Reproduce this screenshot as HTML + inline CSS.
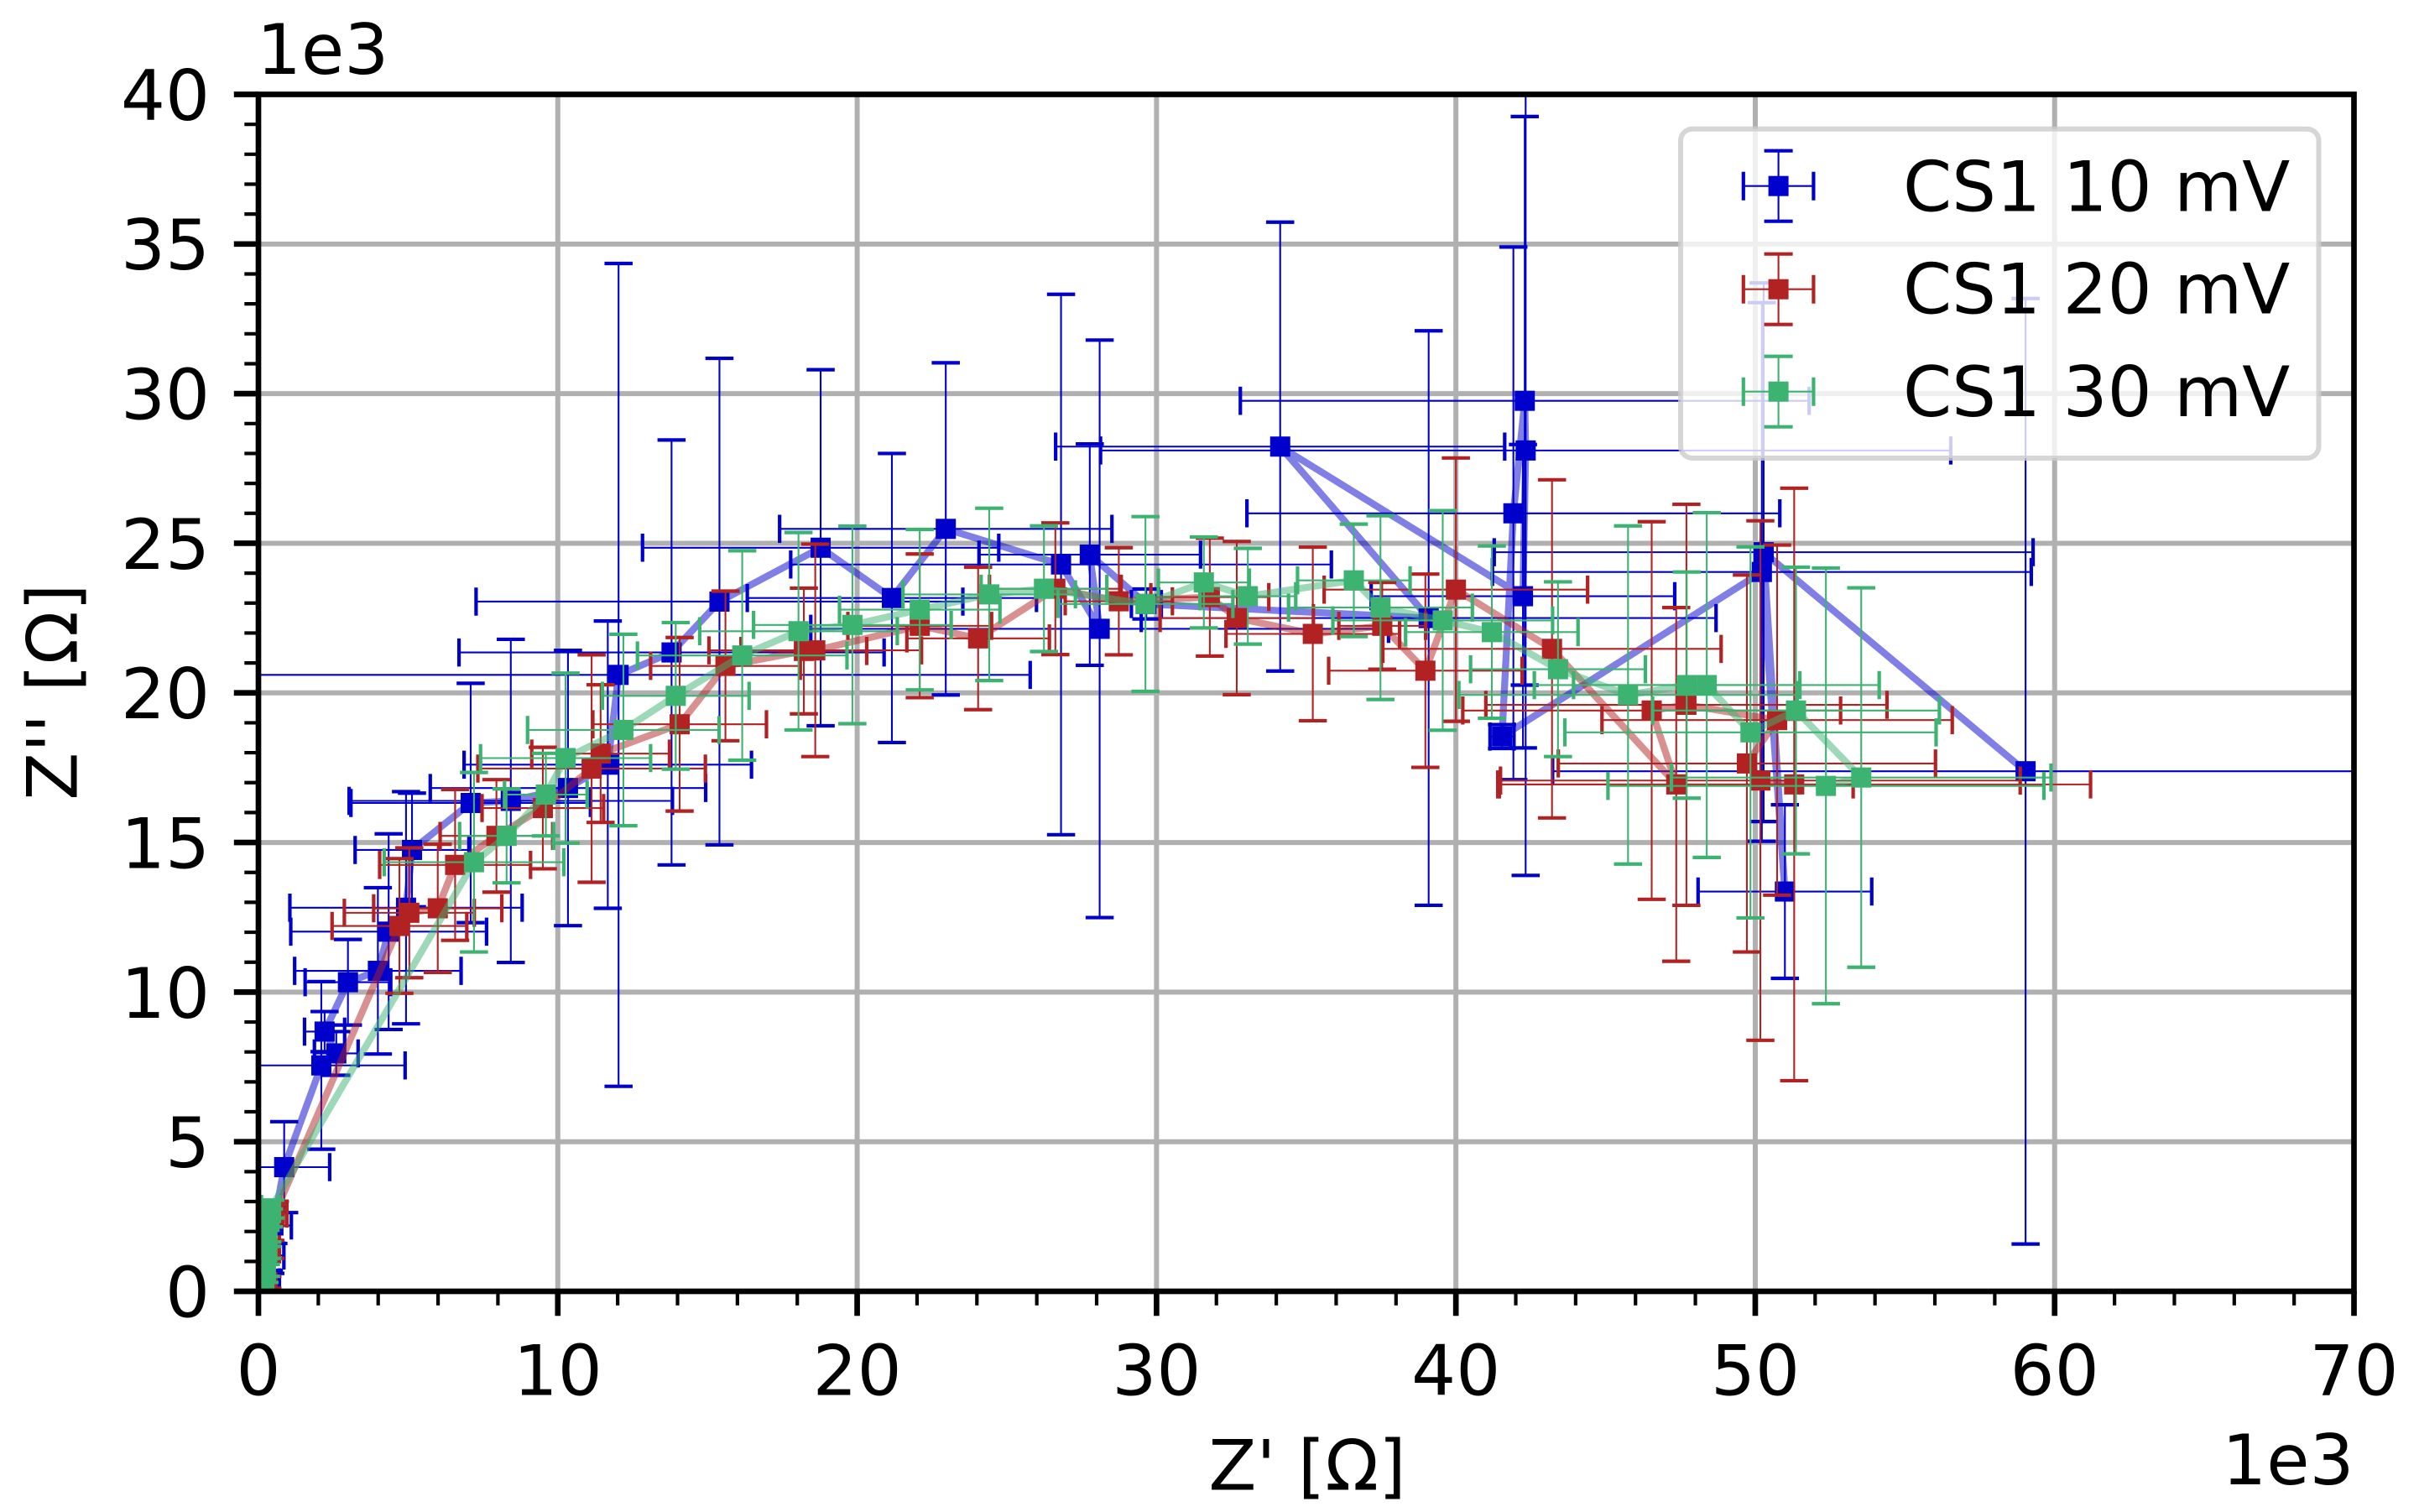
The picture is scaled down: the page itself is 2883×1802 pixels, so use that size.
<!DOCTYPE html>
<html><head><meta charset="utf-8"><style>
html,body{margin:0;padding:0;background:#fff}
svg{display:block}
.d path,.t path{vector-effect:non-scaling-stroke;fill:none}
.b{stroke-width:2.1px}
.c{stroke-width:4.2px}
.ln{stroke-width:8.3px;stroke-opacity:.5;stroke-linejoin:round;stroke-linecap:square;fill:none}
text{font-family:"DejaVu Sans","Liberation Sans",sans-serif;font-size:83.33px;fill:#000}
</style></head><body>
<svg xmlns="http://www.w3.org/2000/svg" xmlns:xlink="http://www.w3.org/1999/xlink" width="2883" height="1802" viewBox="0 0 2883 1802">
<defs>
<clipPath id="ax"><rect x="308" y="112.5" width="2497.5" height="1426.5"/></clipPath>
<rect id="m" x="-.336" y="-.336" width=".673" height=".673" stroke="none"/>
</defs>
<rect x="0" y="0" width="2883" height="1802" fill="#fff"/>

<!-- grid -->
<g class="t" transform="matrix(35.679 0 0 -35.6625 308 1539)">
<path stroke="#b0b0b0" stroke-width="6" d="M0 0V40M10 0V40M20 0V40M30 0V40M40 0V40M50 0V40M60 0V40M70 0V40M0 0H70M0 5H70M0 10H70M0 15H70M0 20H70M0 25H70M0 30H70M0 35H70M0 40H70"/>
</g>

<g clip-path="url(#ax)">
<g class="d" transform="matrix(35.679 0 0 -35.6625 308 1539)">

<!-- BLUE -->
<g stroke="#0000cd" fill="#0000cd">
<g transform="translate(0.4 0.3)"><path class="b" d="M-.3 0H.3M0 -.3V.3"/><path class="c" d="M-.3 -.47V.47M.3 -.47V.47M-.47 -.3H.47M-.47 .3H.47"/><use xlink:href="#m" href="#m"/></g>
<g transform="translate(0.35 1.2)"><path class="b" d="M-.5 0H.5M0 -.5V.5"/><path class="c" d="M-.5 -.47V.47M.5 -.47V.47M-.47 -.5H.47M-.47 .5H.47"/><use xlink:href="#m" href="#m"/></g>
<g transform="translate(0.5 2.2)"><path class="b" d="M-.6 0H.6M0 -.6V.6"/><path class="c" d="M-.6 -.47V.47M.6 -.47V.47M-.47 -.6H.47M-.47 .6H.47"/><use xlink:href="#m" href="#m"/></g>
<g transform="translate(0.86 4.15)"><path class="b" d="M-1.52 0H1.52M0 -1.52V1.52"/><path class="c" d="M-1.52 -.47V.47M1.52 -.47V.47M-.47 -1.52H.47M-.47 1.52H.47"/><use xlink:href="#m" href="#m"/></g>
<g transform="translate(2.1 7.55)"><path class="b" d="M-2.8 0H2.8M0 -2.8V2.8"/><path class="c" d="M-2.8 -.47V.47M2.8 -.47V.47M-.47 -2.8H.47M-.47 2.8H.47"/><use xlink:href="#m" href="#m"/></g>
<g transform="translate(2.6 7.95)"><path class="b" d="M-.73 0H.73M0 -.73V.73"/><path class="c" d="M-.73 -.47V.47M.73 -.47V.47M-.47 -.73H.47M-.47 .73H.47"/><use xlink:href="#m" href="#m"/></g>
<g transform="translate(2.21 8.68)"><path class="b" d="M-.67 0H.67M0 -.67V.67"/><path class="c" d="M-.67 -.47V.47M.67 -.47V.47M-.47 -.67H.47M-.47 .67H.47"/><use xlink:href="#m" href="#m"/></g>
<g transform="translate(2.99 10.33)"><path class="b" d="M-1.43 0H1.43M0 -1.43V1.43"/><path class="c" d="M-1.43 -.47V.47M1.43 -.47V.47M-.47 -1.43H.47M-.47 1.43H.47"/><use xlink:href="#m" href="#m"/></g>
<g transform="translate(3.99 10.71)"><path class="b" d="M-2.78 0H2.78M0 -2.78V2.78"/><path class="c" d="M-2.78 -.47V.47M2.78 -.47V.47M-.47 -2.78H.47M-.47 2.78H.47"/><use xlink:href="#m" href="#m"/></g>
<g transform="translate(4.35 12.02)"><path class="b" d="M-3.27 0H3.27M0 -3.27V3.27"/><path class="c" d="M-3.27 -.47V.47M3.27 -.47V.47M-.47 -3.27H.47M-.47 3.27H.47"/><use xlink:href="#m" href="#m"/></g>
<g transform="translate(4.93 12.82)"><path class="b" d="M-3.88 0H3.88M0 -3.88V3.88"/><path class="c" d="M-3.88 -.47V.47M3.88 -.47V.47M-.47 -3.88H.47M-.47 3.88H.47"/><use xlink:href="#m" href="#m"/></g>
<g transform="translate(5.13 14.75)"><path class="b" d="M-1.9 0H1.9M0 -1.9V1.9"/><path class="c" d="M-1.9 -.47V.47M1.9 -.47V.47M-.47 -1.9H.47M-.47 1.9H.47"/><use xlink:href="#m" href="#m"/></g>
<g transform="translate(7.09 16.32)"><path class="b" d="M-4 0H4M0 -4V4"/><path class="c" d="M-4 -.47V.47M4 -.47V.47M-.47 -4H.47M-.47 4H.47"/><use xlink:href="#m" href="#m"/></g>
<g transform="translate(8.43 16.39)"><path class="b" d="M-5.4 0H5.4M0 -5.4V5.4"/><path class="c" d="M-5.4 -.47V.47M5.4 -.47V.47M-.47 -5.4H.47M-.47 5.4H.47"/><use xlink:href="#m" href="#m"/></g>
<g transform="translate(10.34 16.82)"><path class="b" d="M-4.6 0H4.6M0 -4.6V4.6"/><path class="c" d="M-4.6 -.47V.47M4.6 -.47V.47M-.47 -4.6H.47M-.47 4.6H.47"/><use xlink:href="#m" href="#m"/></g>
<g transform="translate(11.67 17.6)"><path class="b" d="M-4.8 0H4.8M0 -4.8V4.8"/><path class="c" d="M-4.8 -.47V.47M4.8 -.47V.47M-.47 -4.8H.47M-.47 4.8H.47"/><use xlink:href="#m" href="#m"/></g>
<g transform="translate(12.03 20.6)"><path class="b" d="M-13.75 0H13.75M0 -13.75V13.75"/><path class="c" d="M-13.75 -.47V.47M13.75 -.47V.47M-.47 -13.75H.47M-.47 13.75H.47"/><use xlink:href="#m" href="#m"/></g>
<g transform="translate(13.8 21.35)"><path class="b" d="M-7.1 0H7.1M0 -7.1V7.1"/><path class="c" d="M-7.1 -.47V.47M7.1 -.47V.47M-.47 -7.1H.47M-.47 7.1H.47"/><use xlink:href="#m" href="#m"/></g>
<g transform="translate(15.4 23.05)"><path class="b" d="M-8.13 0H8.13M0 -8.13V8.13"/><path class="c" d="M-8.13 -.47V.47M8.13 -.47V.47M-.47 -8.13H.47M-.47 8.13H.47"/><use xlink:href="#m" href="#m"/></g>
<g transform="translate(18.78 24.85)"><path class="b" d="M-5.95 0H5.95M0 -5.95V5.95"/><path class="c" d="M-5.95 -.47V.47M5.95 -.47V.47M-.47 -5.95H.47M-.47 5.95H.47"/><use xlink:href="#m" href="#m"/></g>
<g transform="translate(21.16 23.17)"><path class="b" d="M-4.83 0H4.83M0 -4.83V4.83"/><path class="c" d="M-4.83 -.47V.47M4.83 -.47V.47M-.47 -4.83H.47M-.47 4.83H.47"/><use xlink:href="#m" href="#m"/></g>
<g transform="translate(22.96 25.48)"><path class="b" d="M-5.55 0H5.55M0 -5.55V5.55"/><path class="c" d="M-5.55 -.47V.47M5.55 -.47V.47M-.47 -5.55H.47M-.47 5.55H.47"/><use xlink:href="#m" href="#m"/></g>
<g transform="translate(26.81 24.29)"><path class="b" d="M-9.03 0H9.03M0 -9.03V9.03"/><path class="c" d="M-9.03 -.47V.47M9.03 -.47V.47M-.47 -9.03H.47M-.47 9.03H.47"/><use xlink:href="#m" href="#m"/></g>
<g transform="translate(28.1 22.14)"><path class="b" d="M-9.65 0H9.65M0 -9.65V9.65"/><path class="c" d="M-9.65 -.47V.47M9.65 -.47V.47M-.47 -9.65H.47M-.47 9.65H.47"/><use xlink:href="#m" href="#m"/></g>
<g transform="translate(27.77 24.62)"><path class="b" d="M-3.7 0H3.7M0 -3.7V3.7"/><path class="c" d="M-3.7 -.47V.47M3.7 -.47V.47M-.47 -3.7H.47M-.47 3.7H.47"/><use xlink:href="#m" href="#m"/></g>
<g transform="translate(29.66 22.97)"><path class="b" d="M-.5 0H.5M0 -.5V.5"/><path class="c" d="M-.5 -.47V.47M.5 -.47V.47M-.47 -.5H.47M-.47 .5H.47"/><use xlink:href="#m" href="#m"/></g>
<g transform="translate(39.09 22.5)"><path class="b" d="M-9.6 0H9.6M0 -9.6V9.6"/><path class="c" d="M-9.6 -.47V.47M9.6 -.47V.47M-.47 -9.6H.47M-.47 9.6H.47"/><use xlink:href="#m" href="#m"/></g>
<g transform="translate(34.13 28.23)"><path class="b" d="M-7.5 0H7.5M0 -7.5V7.5"/><path class="c" d="M-7.5 -.47V.47M7.5 -.47V.47M-.47 -7.5H.47M-.47 7.5H.47"/><use xlink:href="#m" href="#m"/></g>
<g transform="translate(42.24 23.23)"><path class="b" d="M-5.07 0H5.07M0 -5.07V5.07"/><path class="c" d="M-5.07 -.47V.47M5.07 -.47V.47M-.47 -5.07H.47M-.47 5.07H.47"/><use xlink:href="#m" href="#m"/></g>
<g transform="translate(42.33 28.1)"><path class="b" d="M-14.2 0H14.2M0 -14.2V14.2"/><path class="c" d="M-14.2 -.47V.47M14.2 -.47V.47M-.47 -14.2H.47M-.47 14.2H.47"/><use xlink:href="#m" href="#m"/></g>
<g transform="translate(42.3 29.76)"><path class="b" d="M-9.5 0H9.5M0 -9.5V9.5"/><path class="c" d="M-9.5 -.47V.47M9.5 -.47V.47M-.47 -9.5H.47M-.47 9.5H.47"/><use xlink:href="#m" href="#m"/></g>
<g transform="translate(41.92 26)"><path class="b" d="M-8.9 0H8.9M0 -8.9V8.9"/><path class="c" d="M-8.9 -.47V.47M8.9 -.47V.47M-.47 -8.9H.47M-.47 8.9H.47"/><use xlink:href="#m" href="#m"/></g>
<g transform="translate(41.54 18.54)"><path class="b" d="M-.4 0H.4M0 -.4V.4"/><path class="c" d="M-.4 -.47V.47M.4 -.47V.47M-.47 -.4H.47M-.47 .4H.47"/><use xlink:href="#m" href="#m"/></g>
<g transform="translate(50.22 24.04)"><path class="b" d="M-9 0H9M0 -9V9"/><path class="c" d="M-9 -.47V.47M9 -.47V.47M-.47 -9H.47M-.47 9H.47"/><use xlink:href="#m" href="#m"/></g>
<g transform="translate(50.99 13.36)"><path class="b" d="M-2.9 0H2.9M0 -2.9V2.9"/><path class="c" d="M-2.9 -.47V.47M2.9 -.47V.47M-.47 -2.9H.47M-.47 2.9H.47"/><use xlink:href="#m" href="#m"/></g>
<g transform="translate(50.28 24.7)"><path class="b" d="M-9 0H9M0 -9V9"/><path class="c" d="M-9 -.47V.47M9 -.47V.47M-.47 -9H.47M-.47 9H.47"/><use xlink:href="#m" href="#m"/></g>
<g transform="translate(59.03 17.38)"><path class="b" d="M-15.8 0H15.8M0 -15.8V15.8"/><path class="c" d="M-15.8 -.47V.47M15.8 -.47V.47M-.47 -15.8H.47M-.47 15.8H.47"/><use xlink:href="#m" href="#m"/></g>
</g>
<path class="ln" stroke="#0000cd" d="M0.4 0.3L0.35 1.2L0.5 2.2L0.86 4.15L2.1 7.55L2.6 7.95L2.21 8.68L2.99 10.33L3.99 10.71L4.35 12.02L4.93 12.82L5.13 14.75L7.09 16.32L8.43 16.39L10.34 16.82L11.67 17.6L12.03 20.6L13.8 21.35L15.4 23.05L18.78 24.85L21.16 23.17L22.96 25.48L26.81 24.29L28.1 22.14L27.77 24.62L29.66 22.97L39.09 22.5L34.13 28.23L42.24 23.23L42.33 28.1L42.3 29.76L41.92 26L41.54 18.54L50.22 24.04L50.99 13.36L50.28 24.7L59.03 17.38"/>

<!-- RED -->
<g stroke="#b22222" fill="#b22222">
<g transform="translate(0.3 0.3)"><path class="b" d="M-.2 0H.2M0 -.2V.2"/><path class="c" d="M-.2 -.47V.47M.2 -.47V.47M-.47 -.2H.47M-.47 .2H.47"/><use xlink:href="#m" href="#m"/></g>
<g transform="translate(0.4 1.4)"><path class="b" d="M-.3 0H.3M0 -.3V.3"/><path class="c" d="M-.3 -.47V.47M.3 -.47V.47M-.47 -.3H.47M-.47 .3H.47"/><use xlink:href="#m" href="#m"/></g>
<g transform="translate(0.55 2.6)"><path class="b" d="M-.4 0H.4M0 -.4V.4"/><path class="c" d="M-.4 -.47V.47M.4 -.47V.47M-.47 -.4H.47M-.47 .4H.47"/><use xlink:href="#m" href="#m"/></g>
<g transform="translate(4.71 12.21)"><path class="b" d="M-2.25 0H2.25M0 -2.25V2.25"/><path class="c" d="M-2.25 -.47V.47M2.25 -.47V.47M-.47 -2.25H.47M-.47 2.25H.47"/><use xlink:href="#m" href="#m"/></g>
<g transform="translate(5.04 12.65)"><path class="b" d="M-2.17 0H2.17M0 -2.17V2.17"/><path class="c" d="M-2.17 -.47V.47M2.17 -.47V.47M-.47 -2.17H.47M-.47 2.17H.47"/><use xlink:href="#m" href="#m"/></g>
<g transform="translate(5.99 12.8)"><path class="b" d="M-2.14 0H2.14M0 -2.14V2.14"/><path class="c" d="M-2.14 -.47V.47M2.14 -.47V.47M-.47 -2.14H.47M-.47 2.14H.47"/><use xlink:href="#m" href="#m"/></g>
<g transform="translate(6.57 14.25)"><path class="b" d="M-2.52 0H2.52M0 -2.52V2.52"/><path class="c" d="M-2.52 -.47V.47M2.52 -.47V.47M-.47 -2.52H.47M-.47 2.52H.47"/><use xlink:href="#m" href="#m"/></g>
<g transform="translate(7.95 15.22)"><path class="b" d="M-1.88 0H1.88M0 -1.88V1.88"/><path class="c" d="M-1.88 -.47V.47M1.88 -.47V.47M-.47 -1.88H.47M-.47 1.88H.47"/><use xlink:href="#m" href="#m"/></g>
<g transform="translate(9.5 16.15)"><path class="b" d="M-2.03 0H2.03M0 -2.03V2.03"/><path class="c" d="M-2.03 -.47V.47M2.03 -.47V.47M-.47 -2.03H.47M-.47 2.03H.47"/><use xlink:href="#m" href="#m"/></g>
<g transform="translate(11.13 17.47)"><path class="b" d="M-3.8 0H3.8M0 -3.8V3.8"/><path class="c" d="M-3.8 -.47V.47M3.8 -.47V.47M-.47 -3.8H.47M-.47 3.8H.47"/><use xlink:href="#m" href="#m"/></g>
<g transform="translate(11.43 17.97)"><path class="b" d="M-2.3 0H2.3M0 -2.3V2.3"/><path class="c" d="M-2.3 -.47V.47M2.3 -.47V.47M-.47 -2.3H.47M-.47 2.3H.47"/><use xlink:href="#m" href="#m"/></g>
<g transform="translate(14.07 18.95)"><path class="b" d="M-2.9 0H2.9M0 -2.9V2.9"/><path class="c" d="M-2.9 -.47V.47M2.9 -.47V.47M-.47 -2.9H.47M-.47 2.9H.47"/><use xlink:href="#m" href="#m"/></g>
<g transform="translate(15.6 20.9)"><path class="b" d="M-2.5 0H2.5M0 -2.5V2.5"/><path class="c" d="M-2.5 -.47V.47M2.5 -.47V.47M-.47 -2.5H.47M-.47 2.5H.47"/><use xlink:href="#m" href="#m"/></g>
<g transform="translate(18.22 21.4)"><path class="b" d="M-2.1 0H2.1M0 -2.1V2.1"/><path class="c" d="M-2.1 -.47V.47M2.1 -.47V.47M-.47 -2.1H.47M-.47 2.1H.47"/><use xlink:href="#m" href="#m"/></g>
<g transform="translate(18.6 21.42)"><path class="b" d="M-3.55 0H3.55M0 -3.55V3.55"/><path class="c" d="M-3.55 -.47V.47M3.55 -.47V.47M-.47 -3.55H.47M-.47 3.55H.47"/><use xlink:href="#m" href="#m"/></g>
<g transform="translate(22.09 22.24)"><path class="b" d="M-2.4 0H2.4M0 -2.4V2.4"/><path class="c" d="M-2.4 -.47V.47M2.4 -.47V.47M-.47 -2.4H.47M-.47 2.4H.47"/><use xlink:href="#m" href="#m"/></g>
<g transform="translate(24.04 21.82)"><path class="b" d="M-2.38 0H2.38M0 -2.38V2.38"/><path class="c" d="M-2.38 -.47V.47M2.38 -.47V.47M-.47 -2.38H.47M-.47 2.38H.47"/><use xlink:href="#m" href="#m"/></g>
<g transform="translate(26.62 23.48)"><path class="b" d="M-2.2 0H2.2M0 -2.2V2.2"/><path class="c" d="M-2.2 -.47V.47M2.2 -.47V.47M-.47 -2.2H.47M-.47 2.2H.47"/><use xlink:href="#m" href="#m"/></g>
<g transform="translate(28.74 23.06)"><path class="b" d="M-1.79 0H1.79M0 -1.79V1.79"/><path class="c" d="M-1.79 -.47V.47M1.79 -.47V.47M-.47 -1.79H.47M-.47 1.79H.47"/><use xlink:href="#m" href="#m"/></g>
<g transform="translate(31.78 23.2)"><path class="b" d="M-1.97 0H1.97M0 -1.97V1.97"/><path class="c" d="M-1.97 -.47V.47M1.97 -.47V.47M-.47 -1.97H.47M-.47 1.97H.47"/><use xlink:href="#m" href="#m"/></g>
<g transform="translate(32.68 22.5)"><path class="b" d="M-2.56 0H2.56M0 -2.56V2.56"/><path class="c" d="M-2.56 -.47V.47M2.56 -.47V.47M-.47 -2.56H.47M-.47 2.56H.47"/><use xlink:href="#m" href="#m"/></g>
<g transform="translate(35.22 21.97)"><path class="b" d="M-2.9 0H2.9M0 -2.9V2.9"/><path class="c" d="M-2.9 -.47V.47M2.9 -.47V.47M-.47 -2.9H.47M-.47 2.9H.47"/><use xlink:href="#m" href="#m"/></g>
<g transform="translate(37.54 22.24)"><path class="b" d="M-1.45 0H1.45M0 -1.45V1.45"/><path class="c" d="M-1.45 -.47V.47M1.45 -.47V.47M-.47 -1.45H.47M-.47 1.45H.47"/><use xlink:href="#m" href="#m"/></g>
<g transform="translate(38.98 20.74)"><path class="b" d="M-3.23 0H3.23M0 -3.23V3.23"/><path class="c" d="M-3.23 -.47V.47M3.23 -.47V.47M-.47 -3.23H.47M-.47 3.23H.47"/><use xlink:href="#m" href="#m"/></g>
<g transform="translate(40 23.45)"><path class="b" d="M-4.4 0H4.4M0 -4.4V4.4"/><path class="c" d="M-4.4 -.47V.47M4.4 -.47V.47M-.47 -4.4H.47M-.47 4.4H.47"/><use xlink:href="#m" href="#m"/></g>
<g transform="translate(43.21 21.47)"><path class="b" d="M-5.65 0H5.65M0 -5.65V5.65"/><path class="c" d="M-5.65 -.47V.47M5.65 -.47V.47M-.47 -5.65H.47M-.47 5.65H.47"/><use xlink:href="#m" href="#m"/></g>
<g transform="translate(47.36 16.94)"><path class="b" d="M-5.91 0H5.91M0 -5.91V5.91"/><path class="c" d="M-5.91 -.47V.47M5.91 -.47V.47M-.47 -5.91H.47M-.47 5.91H.47"/><use xlink:href="#m" href="#m"/></g>
<g transform="translate(46.54 19.41)"><path class="b" d="M-6.31 0H6.31M0 -6.31V6.31"/><path class="c" d="M-6.31 -.47V.47M6.31 -.47V.47M-.47 -6.31H.47M-.47 6.31H.47"/><use xlink:href="#m" href="#m"/></g>
<g transform="translate(47.7 19.6)"><path class="b" d="M-6.7 0H6.7M0 -6.7V6.7"/><path class="c" d="M-6.7 -.47V.47M6.7 -.47V.47M-.47 -6.7H.47M-.47 6.7H.47"/><use xlink:href="#m" href="#m"/></g>
<g transform="translate(50.73 19.09)"><path class="b" d="M-5.85 0H5.85M0 -5.85V5.85"/><path class="c" d="M-5.85 -.47V.47M5.85 -.47V.47M-.47 -5.85H.47M-.47 5.85H.47"/><use xlink:href="#m" href="#m"/></g>
<g transform="translate(49.72 17.64)"><path class="b" d="M-6.3 0H6.3M0 -6.3V6.3"/><path class="c" d="M-6.3 -.47V.47M6.3 -.47V.47M-.47 -6.3H.47M-.47 6.3H.47"/><use xlink:href="#m" href="#m"/></g>
<g transform="translate(50.17 17.07)"><path class="b" d="M-8.68 0H8.68M0 -8.68V8.68"/><path class="c" d="M-8.68 -.47V.47M8.68 -.47V.47M-.47 -8.68H.47M-.47 8.68H.47"/><use xlink:href="#m" href="#m"/></g>
<g transform="translate(51.3 16.94)"><path class="b" d="M-9.9 0H9.9M0 -9.9V9.9"/><path class="c" d="M-9.9 -.47V.47M9.9 -.47V.47M-.47 -9.9H.47M-.47 9.9H.47"/><use xlink:href="#m" href="#m"/></g>
</g>
<path class="ln" stroke="#b22222" d="M0.3 0.3L0.4 1.4L0.55 2.6L4.71 12.21L5.04 12.65L5.99 12.8L6.57 14.25L7.95 15.22L9.5 16.15L11.13 17.47L11.43 17.97L14.07 18.95L15.6 20.9L18.22 21.4L18.6 21.42L22.09 22.24L24.04 21.82L26.62 23.48L28.74 23.06L31.78 23.2L32.68 22.5L35.22 21.97L37.54 22.24L38.98 20.74L40 23.45L43.21 21.47L47.36 16.94L46.54 19.41L47.7 19.6L50.73 19.09L49.72 17.64L50.17 17.07L51.3 16.94"/>

<!-- GREEN -->
<g stroke="#3cb371" fill="#3cb371">
<g transform="translate(0.2 0.15)"><path class="b" d="M-.15 0H.15M0 -.15V.15"/><path class="c" d="M-.15 -.47V.47M.15 -.47V.47M-.47 -.15H.47M-.47 .15H.47"/><use xlink:href="#m" href="#m"/></g>
<g transform="translate(0.25 0.7)"><path class="b" d="M-.2 0H.2M0 -.2V.2"/><path class="c" d="M-.2 -.47V.47M.2 -.47V.47M-.47 -.2H.47M-.47 .2H.47"/><use xlink:href="#m" href="#m"/></g>
<g transform="translate(0.3 1.3)"><path class="b" d="M-.2 0H.2M0 -.2V.2"/><path class="c" d="M-.2 -.47V.47M.2 -.47V.47M-.47 -.2H.47M-.47 .2H.47"/><use xlink:href="#m" href="#m"/></g>
<g transform="translate(0.3 1.9)"><path class="b" d="M-.25 0H.25M0 -.25V.25"/><path class="c" d="M-.25 -.47V.47M.25 -.47V.47M-.47 -.25H.47M-.47 .25H.47"/><use xlink:href="#m" href="#m"/></g>
<g transform="translate(0.35 2.45)"><path class="b" d="M-.3 0H.3M0 -.3V.3"/><path class="c" d="M-.3 -.47V.47M.3 -.47V.47M-.47 -.3H.47M-.47 .3H.47"/><use xlink:href="#m" href="#m"/></g>
<g transform="translate(0.4 2.75)"><path class="b" d="M-.3 0H.3M0 -.3V.3"/><path class="c" d="M-.3 -.47V.47M.3 -.47V.47M-.47 -.3H.47M-.47 .3H.47"/><use xlink:href="#m" href="#m"/></g>
<g transform="translate(7.2 14.34)"><path class="b" d="M-3 0H3M0 -3V3"/><path class="c" d="M-3 -.47V.47M3 -.47V.47M-.47 -3H.47M-.47 3H.47"/><use xlink:href="#m" href="#m"/></g>
<g transform="translate(8.29 15.22)"><path class="b" d="M-1.57 0H1.57M0 -1.57V1.57"/><path class="c" d="M-1.57 -.47V.47M1.57 -.47V.47M-.47 -1.57H.47M-.47 1.57H.47"/><use xlink:href="#m" href="#m"/></g>
<g transform="translate(9.6 16.6)"><path class="b" d="M-1.38 0H1.38M0 -1.38V1.38"/><path class="c" d="M-1.38 -.47V.47M1.38 -.47V.47M-.47 -1.38H.47M-.47 1.38H.47"/><use xlink:href="#m" href="#m"/></g>
<g transform="translate(10.26 17.82)"><path class="b" d="M-2.84 0H2.84M0 -2.84V2.84"/><path class="c" d="M-2.84 -.47V.47M2.84 -.47V.47M-.47 -2.84H.47M-.47 2.84H.47"/><use xlink:href="#m" href="#m"/></g>
<g transform="translate(12.19 18.76)"><path class="b" d="M-3.2 0H3.2M0 -3.2V3.2"/><path class="c" d="M-3.2 -.47V.47M3.2 -.47V.47M-.47 -3.2H.47M-.47 3.2H.47"/><use xlink:href="#m" href="#m"/></g>
<g transform="translate(13.94 19.9)"><path class="b" d="M-2.45 0H2.45M0 -2.45V2.45"/><path class="c" d="M-2.45 -.47V.47M2.45 -.47V.47M-.47 -2.45H.47M-.47 2.45H.47"/><use xlink:href="#m" href="#m"/></g>
<g transform="translate(16.16 21.25)"><path class="b" d="M-3.5 0H3.5M0 -3.5V3.5"/><path class="c" d="M-3.5 -.47V.47M3.5 -.47V.47M-.47 -3.5H.47M-.47 3.5H.47"/><use xlink:href="#m" href="#m"/></g>
<g transform="translate(18.04 22.06)"><path class="b" d="M-3.3 0H3.3M0 -3.3V3.3"/><path class="c" d="M-3.3 -.47V.47M3.3 -.47V.47M-.47 -3.3H.47M-.47 3.3H.47"/><use xlink:href="#m" href="#m"/></g>
<g transform="translate(19.84 22.27)"><path class="b" d="M-3.3 0H3.3M0 -3.3V3.3"/><path class="c" d="M-3.3 -.47V.47M3.3 -.47V.47M-.47 -3.3H.47M-.47 3.3H.47"/><use xlink:href="#m" href="#m"/></g>
<g transform="translate(22.09 22.78)"><path class="b" d="M-2.68 0H2.68M0 -2.68V2.68"/><path class="c" d="M-2.68 -.47V.47M2.68 -.47V.47M-.47 -2.68H.47M-.47 2.68H.47"/><use xlink:href="#m" href="#m"/></g>
<g transform="translate(24.41 23.29)"><path class="b" d="M-2.88 0H2.88M0 -2.88V2.88"/><path class="c" d="M-2.88 -.47V.47M2.88 -.47V.47M-.47 -2.88H.47M-.47 2.88H.47"/><use xlink:href="#m" href="#m"/></g>
<g transform="translate(26.24 23.48)"><path class="b" d="M-2.1 0H2.1M0 -2.1V2.1"/><path class="c" d="M-2.1 -.47V.47M2.1 -.47V.47M-.47 -2.1H.47M-.47 2.1H.47"/><use xlink:href="#m" href="#m"/></g>
<g transform="translate(29.63 22.97)"><path class="b" d="M-2.92 0H2.92M0 -2.92V2.92"/><path class="c" d="M-2.92 -.47V.47M2.92 -.47V.47M-.47 -2.92H.47M-.47 2.92H.47"/><use xlink:href="#m" href="#m"/></g>
<g transform="translate(31.58 23.69)"><path class="b" d="M-1.52 0H1.52M0 -1.52V1.52"/><path class="c" d="M-1.52 -.47V.47M1.52 -.47V.47M-.47 -1.52H.47M-.47 1.52H.47"/><use xlink:href="#m" href="#m"/></g>
<g transform="translate(33.05 23.23)"><path class="b" d="M-1.6 0H1.6M0 -1.6V1.6"/><path class="c" d="M-1.6 -.47V.47M1.6 -.47V.47M-.47 -1.6H.47M-.47 1.6H.47"/><use xlink:href="#m" href="#m"/></g>
<g transform="translate(36.59 23.76)"><path class="b" d="M-1.88 0H1.88M0 -1.88V1.88"/><path class="c" d="M-1.88 -.47V.47M1.88 -.47V.47M-.47 -1.88H.47M-.47 1.88H.47"/><use xlink:href="#m" href="#m"/></g>
<g transform="translate(37.48 22.85)"><path class="b" d="M-3.07 0H3.07M0 -3.07V3.07"/><path class="c" d="M-3.07 -.47V.47M3.07 -.47V.47M-.47 -3.07H.47M-.47 3.07H.47"/><use xlink:href="#m" href="#m"/></g>
<g transform="translate(39.56 22.42)"><path class="b" d="M-3.67 0H3.67M0 -3.67V3.67"/><path class="c" d="M-3.67 -.47V.47M3.67 -.47V.47M-.47 -3.67H.47M-.47 3.67H.47"/><use xlink:href="#m" href="#m"/></g>
<g transform="translate(41.2 22.03)"><path class="b" d="M-2.88 0H2.88M0 -2.88V2.88"/><path class="c" d="M-2.88 -.47V.47M2.88 -.47V.47M-.47 -2.88H.47M-.47 2.88H.47"/><use xlink:href="#m" href="#m"/></g>
<g transform="translate(43.41 20.79)"><path class="b" d="M-2.92 0H2.92M0 -2.92V2.92"/><path class="c" d="M-2.92 -.47V.47M2.92 -.47V.47M-.47 -2.92H.47M-.47 2.92H.47"/><use xlink:href="#m" href="#m"/></g>
<g transform="translate(45.75 19.93)"><path class="b" d="M-5.65 0H5.65M0 -5.65V5.65"/><path class="c" d="M-5.65 -.47V.47M5.65 -.47V.47M-.47 -5.65H.47M-.47 5.65H.47"/><use xlink:href="#m" href="#m"/></g>
<g transform="translate(47.71 20.26)"><path class="b" d="M-3.78 0H3.78M0 -3.78V3.78"/><path class="c" d="M-3.78 -.47V.47M3.78 -.47V.47M-.47 -3.78H.47M-.47 3.78H.47"/><use xlink:href="#m" href="#m"/></g>
<g transform="translate(48.38 20.26)"><path class="b" d="M-5.76 0H5.76M0 -5.76V5.76"/><path class="c" d="M-5.76 -.47V.47M5.76 -.47V.47M-.47 -5.76H.47M-.47 5.76H.47"/><use xlink:href="#m" href="#m"/></g>
<g transform="translate(49.84 18.68)"><path class="b" d="M-6.2 0H6.2M0 -6.2V6.2"/><path class="c" d="M-6.2 -.47V.47M6.2 -.47V.47M-.47 -6.2H.47M-.47 6.2H.47"/><use xlink:href="#m" href="#m"/></g>
<g transform="translate(51.36 19.41)"><path class="b" d="M-4.79 0H4.79M0 -4.79V4.79"/><path class="c" d="M-4.79 -.47V.47M4.79 -.47V.47M-.47 -4.79H.47M-.47 4.79H.47"/><use xlink:href="#m" href="#m"/></g>
<g transform="translate(53.54 17.17)"><path class="b" d="M-6.34 0H6.34M0 -6.34V6.34"/><path class="c" d="M-6.34 -.47V.47M6.34 -.47V.47M-.47 -6.34H.47M-.47 6.34H.47"/><use xlink:href="#m" href="#m"/></g>
<g transform="translate(52.36 16.89)"><path class="b" d="M-7.28 0H7.28M0 -7.28V7.28"/><path class="c" d="M-7.28 -.47V.47M7.28 -.47V.47M-.47 -7.28H.47M-.47 7.28H.47"/><use xlink:href="#m" href="#m"/></g>
</g>
<path class="ln" stroke="#3cb371" d="M0.2 0.15L0.25 0.7L0.3 1.3L0.3 1.9L0.35 2.45L0.4 2.75L7.2 14.34L8.29 15.22L9.6 16.6L10.26 17.82L12.19 18.76L13.94 19.9L16.16 21.25L18.04 22.06L19.84 22.27L22.09 22.78L24.41 23.29L26.24 23.48L29.63 22.97L31.58 23.69L33.05 23.23L36.59 23.76L37.48 22.85L39.56 22.42L41.2 22.03L43.41 20.79L45.75 19.93L47.71 20.26L48.38 20.26L49.84 18.68L51.36 19.41L53.54 17.17L52.36 16.89"/>
</g>
</g>

<!-- spines -->
<rect x="308" y="112.5" width="2497.5" height="1426.5" fill="none" stroke="#000" stroke-width="6.67"/>

<!-- ticks -->
<g class="t" stroke="#000">
<g transform="matrix(1 0 0 -35.6625 0 1539)">
<path stroke-width="6.67" d="M308 0H278.8M308 5H278.8M308 10H278.8M308 15H278.8M308 20H278.8M308 25H278.8M308 30H278.8M308 35H278.8M308 40H278.8"/>
<path stroke-width="4.2" d="M308 1H291.3M308 2H291.3M308 3H291.3M308 4H291.3M308 6H291.3M308 7H291.3M308 8H291.3M308 9H291.3M308 11H291.3M308 12H291.3M308 13H291.3M308 14H291.3M308 16H291.3M308 17H291.3M308 18H291.3M308 19H291.3M308 21H291.3M308 22H291.3M308 23H291.3M308 24H291.3M308 26H291.3M308 27H291.3M308 28H291.3M308 29H291.3M308 31H291.3M308 32H291.3M308 33H291.3M308 34H291.3M308 36H291.3M308 37H291.3M308 38H291.3M308 39H291.3"/>
</g>
<g transform="matrix(35.679 0 0 1 308 0)">
<path stroke-width="6.67" d="M0 1539V1568.2M10 1539V1568.2M20 1539V1568.2M30 1539V1568.2M40 1539V1568.2M50 1539V1568.2M60 1539V1568.2M70 1539V1568.2"/>
<path stroke-width="4.2" d="M2 1539V1555.7M4 1539V1555.7M6 1539V1555.7M8 1539V1555.7M12 1539V1555.7M14 1539V1555.7M16 1539V1555.7M18 1539V1555.7M22 1539V1555.7M24 1539V1555.7M26 1539V1555.7M28 1539V1555.7M32 1539V1555.7M34 1539V1555.7M36 1539V1555.7M38 1539V1555.7M42 1539V1555.7M44 1539V1555.7M46 1539V1555.7M48 1539V1555.7M52 1539V1555.7M54 1539V1555.7M56 1539V1555.7M58 1539V1555.7M62 1539V1555.7M64 1539V1555.7M66 1539V1555.7M68 1539V1555.7"/>
</g>
</g>

<!-- tick labels -->
<g text-anchor="end">
<text x="250" y="1569.4">0</text>
<text x="250" y="1391.1">5</text>
<text x="250" y="1212.8">10</text>
<text x="250" y="1034.5">15</text>
<text x="250" y="856.2">20</text>
<text x="250" y="677.8">25</text>
<text x="250" y="499.5">30</text>
<text x="250" y="321.2">35</text>
<text x="250" y="142.9">40</text>
</g>
<g text-anchor="middle">
<text x="308" y="1662.5">0</text>
<text x="664.8" y="1662.5">10</text>
<text x="1021.6" y="1662.5">20</text>
<text x="1378.4" y="1662.5">30</text>
<text x="1735.2" y="1662.5">40</text>
<text x="2092" y="1662.5">50</text>
<text x="2448.7" y="1662.5">60</text>
<text x="2805.5" y="1662.5">70</text>
</g>
<text x="306" y="88">1e3</text>
<text x="2805.5" y="1769" text-anchor="end">1e3</text>

<!-- axis labels -->
<text x="1558" y="1775.7" text-anchor="middle">Z' [Ω]</text>
<text transform="translate(91.7 824.7) rotate(-90)" text-anchor="middle">Z'' [Ω]</text>

<!-- legend -->
<rect x="2003" y="153.7" width="760.5" height="392.3" rx="14" ry="14" fill="#fff" fill-opacity="0.8" stroke="#cccccc" stroke-opacity="0.8" stroke-width="6"/>
<g stroke="#0000cd" fill="#0000cd">
<path fill="none" stroke-width="2.1" d="M2077.8 221.7H2161.4M2119.6 179.7V263.7"/>
<path fill="none" stroke-width="4.2" d="M2077.8 204.7V238.7M2161.4 204.7V238.7M2102.6 179.7H2136.6M2102.6 263.7H2136.6"/>
<rect x="2107.6" y="209.7" width="24" height="24" stroke="none"/>
</g>
<g stroke="#b22222" fill="#b22222">
<path fill="none" stroke-width="2.1" d="M2077.8 344.7H2161.4M2119.6 302.7V386.7"/>
<path fill="none" stroke-width="4.2" d="M2077.8 327.7V361.7M2161.4 327.7V361.7M2102.6 302.7H2136.6M2102.6 386.7H2136.6"/>
<rect x="2107.6" y="332.7" width="24" height="24" stroke="none"/>
</g>
<g stroke="#3cb371" fill="#3cb371">
<path fill="none" stroke-width="2.1" d="M2077.8 466.7H2161.4M2119.6 424.7V508.7"/>
<path fill="none" stroke-width="4.2" d="M2077.8 449.7V483.7M2161.4 449.7V483.7M2102.6 424.7H2136.6M2102.6 508.7H2136.6"/>
<rect x="2107.6" y="454.7" width="24" height="24" stroke="none"/>
</g>
<text x="2268" y="251.7">CS1 10 mV</text>
<text x="2268" y="373.5">CS1 20 mV</text>
<text x="2268" y="496">CS1 30 mV</text>
</svg>
</body></html>
